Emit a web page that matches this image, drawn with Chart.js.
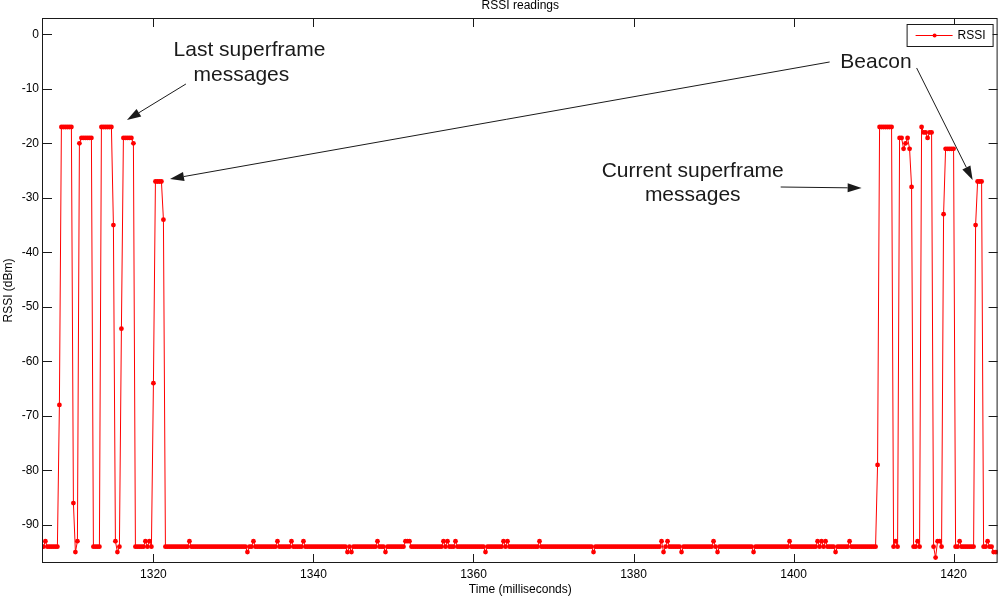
<!DOCTYPE html>
<html>
<head>
<meta charset="utf-8">
<title>RSSI readings</title>
<script src="https://cdn.jsdelivr.net/npm/chart.js@4.4.1/dist/chart.umd.min.js"></script>
<style>
    html, body { margin: 0; padding: 0; background: #fff; }
</style>
</head>
<body>
<canvas id="grafico" width="1000" height="597"></canvas>
<script>
// leituras de RSSI, uma a cada 0.25 ms a partir de 1306 ms (20 por linha = 5 ms)
const inicio = 1306;
const passo = 0.25;
const rssi = [
    -94,-94,-93,-94,-94,-94,-94,-94,-94,-68,-17,-17,-17,-17,-17,-17,-86,-95,-93,-20, // 1306
    -19,-19,-19,-19,-19,-19,-94,-94,-94,-94,-17,-17,-17,-17,-17,-17,-35,-93,-95,-94, // 1311
    -54,-19,-19,-19,-19,-19,-20,-94,-94,-94,-94,-94,-93,-94,-93,-94,-64,-27,-27,-27, // 1316
    -27,-34,-94,-94,-94,-94,-94,-94,-94,-94,-94,-94,-94,-94,-93,-94,-94,-94,-94,-94, // 1321
    -94,-94,-94,-94,-94,-94,-94,-94,-94,-94,-94,-94,-94,-94,-94,-94,-94,-94,-94,-94, // 1326
    -94,-94,-94,-95,-94,-94,-93,-94,-94,-94,-94,-94,-94,-94,-94,-94,-94,-94,-93,-94, // 1331
    -94,-94,-94,-94,-94,-93,-94,-94,-94,-94,-94,-93,-94,-94,-94,-94,-94,-94,-94,-94, // 1336
    -94,-94,-94,-94,-94,-94,-94,-94,-94,-94,-94,-94,-94,-95,-94,-95,-94,-94,-94,-94, // 1341
    -94,-94,-94,-94,-94,-94,-94,-94,-93,-94,-94,-94,-95,-94,-94,-94,-94,-94,-94,-94, // 1346
    -94,-94,-93,-93,-93,-94,-94,-94,-94,-94,-94,-94,-94,-94,-94,-94,-94,-94,-94,-94, // 1351
    -94,-93,-94,-93,-94,-94,-94,-93,-94,-94,-94,-94,-94,-94,-94,-94,-94,-94,-94,-94, // 1356
    -94,-94,-95,-94,-94,-94,-94,-94,-94,-94,-94,-93,-94,-93,-94,-94,-94,-94,-94,-94, // 1361
    -94,-94,-94,-94,-94,-94,-94,-94,-94,-93,-94,-94,-94,-94,-94,-94,-94,-94,-94,-94, // 1366
    -94,-94,-94,-94,-94,-94,-94,-94,-94,-94,-94,-94,-94,-94,-94,-94,-95,-94,-94,-94, // 1371
    -94,-94,-94,-94,-94,-94,-94,-94,-94,-94,-94,-94,-94,-94,-94,-94,-94,-94,-94,-94, // 1376
    -94,-94,-94,-94,-94,-94,-94,-94,-94,-94,-93,-95,-94,-93,-94,-94,-94,-94,-94,-94, // 1381
    -95,-94,-94,-94,-94,-94,-94,-94,-94,-94,-94,-94,-94,-94,-94,-94,-93,-94,-95,-94, // 1386
    -94,-94,-94,-94,-94,-94,-94,-94,-94,-94,-94,-94,-94,-94,-94,-94,-95,-94,-94,-94, // 1391
    -94,-94,-94,-94,-94,-94,-94,-94,-94,-94,-94,-94,-94,-94,-93,-94,-94,-94,-94,-94, // 1396
    -94,-94,-94,-94,-94,-94,-94,-94,-93,-94,-93,-94,-93,-94,-94,-94,-94,-95,-94,-94, // 1401
    -94,-94,-94,-94,-93,-94,-94,-94,-94,-94,-94,-94,-94,-94,-94,-94,-94,-94,-79,-17, // 1406
    -17,-17,-17,-17,-17,-17,-94,-93,-94,-19,-19,-21,-20,-19,-21,-28,-94,-94,-93,-94, // 1411
    -17,-18,-18,-19,-18,-18,-94,-96,-93,-93,-94,-33,-21,-21,-21,-21,-21,-94,-94,-93, // 1416
    -94,-94,-94,-94,-94,-94,-94,-35,-27,-27,-27,-94,-94,-93,-94,-94,-95,-95,-95,-95  // 1421
];

const xTicks = [1320, 1340, 1360, 1380, 1400, 1420];
const yTicks = [0, -10, -20, -30, -40, -50, -60, -70, -80, -90];

// textos e setas das anotacoes, em ms / dBm
const textos = [
    { t: 1332.0, v: -2.9, txt: 'Last superframe' },
    { t: 1331.0, v: -7.5, txt: 'messages' },
    { t: 1410.3, v: -5.1, txt: 'Beacon' },
    { t: 1387.4, v: -25.1, txt: 'Current superframe' },
    { t: 1387.4, v: -29.5, txt: 'messages' }
];
const setas = [
    { de: [1324.06, -9.11], para: [1316.69, -15.72] },
    { de: [1404.51, -5.07], para: [1322.07, -26.54] },
    { de: [1415.38, -6.17], para: [1422.38, -26.72] },
    { de: [1398.39, -28.01], para: [1408.51, -28.19] }
];

var fonte = "'Liberation Sans', Arial, Helvetica, sans-serif";

var pontos = rssi.map((v, i) => ({ x: inicio + i * passo, y: v }));

function seta(ctx, x1, y1, x2, y2) {
    var ang = Math.atan2(y2 - y1, x2 - x1);
    var comp = 14, larg = 4.5;
    var bx = x2 - comp * Math.cos(ang), by = y2 - comp * Math.sin(ang);
    ctx.beginPath();
    ctx.moveTo(x1, y1);
    ctx.lineTo(bx, by);
    ctx.stroke();
    ctx.beginPath();
    ctx.moveTo(x2, y2);
    ctx.lineTo(bx + larg * Math.sin(ang), by - larg * Math.cos(ang));
    ctx.lineTo(bx - larg * Math.sin(ang), by + larg * Math.cos(ang));
    ctx.closePath();
    ctx.fill();
}

const moldura = {
    id: 'moldura',
    afterDatasetsDraw(chart) {
        const ctx = chart.ctx;
        const a = chart.chartArea;
        const x = chart.scales.x, y = chart.scales.y;
        ctx.save();
        ctx.strokeStyle = '#1a1a1a';
        ctx.fillStyle = '#1a1a1a';
        ctx.lineWidth = 1;

        // caixa do eixo
        ctx.strokeRect(a.left - 0.5, a.top + 0.5, a.right - a.left, a.bottom - a.top - 1);

        // ticks para dentro, nos quatro lados
        ctx.beginPath();
        xTicks.forEach(v => {
            var px = Math.round(x.getPixelForValue(v)) + 0.5;
            ctx.moveTo(px, a.bottom); ctx.lineTo(px, a.bottom - 9);
            ctx.moveTo(px, a.top); ctx.lineTo(px, a.top + 9);
        });
        yTicks.forEach(v => {
            var py = Math.round(y.getPixelForValue(v)) + 0.5;
            ctx.moveTo(a.left, py); ctx.lineTo(a.left + 9, py);
            ctx.moveTo(a.right, py); ctx.lineTo(a.right - 9, py);
        });
        ctx.stroke();

        // anotacoes
        ctx.font = '21px ' + fonte;
        ctx.textAlign = 'center';
        ctx.textBaseline = 'middle';
        textos.forEach(n => {
            ctx.fillText(n.txt, x.getPixelForValue(n.t), y.getPixelForValue(n.v));
        });
        setas.forEach(s => {
            seta(ctx,
                x.getPixelForValue(s.de[0]), y.getPixelForValue(s.de[1]),
                x.getPixelForValue(s.para[0]), y.getPixelForValue(s.para[1]));
        });

        // titulo
        ctx.font = '12px ' + fonte;
        ctx.textBaseline = 'alphabetic';
        ctx.fillStyle = '#000';
        ctx.fillText('RSSI readings', (a.left + a.right) / 2, 9);

        // legenda
        var ds = chart.data.datasets[0];
        var lx = a.right - 91, ly = a.top + 6, lw = 86, lh = 22;
        ctx.fillStyle = '#fff';
        ctx.fillRect(lx, ly, lw, lh);
        ctx.strokeStyle = '#1a1a1a';
        ctx.strokeRect(lx + 0.5, ly + 0.5, lw, lh);
        var cy = ly + lh / 2 + 0.5;
        ctx.strokeStyle = ds.borderColor;
        ctx.beginPath();
        ctx.moveTo(lx + 9, cy); ctx.lineTo(lx + 46, cy);
        ctx.stroke();
        ctx.fillStyle = ds.borderColor;
        ctx.beginPath();
        ctx.arc(lx + 28, cy, 2, 0, Math.PI * 2);
        ctx.fill();
        ctx.fillStyle = '#000';
        ctx.textAlign = 'left';
        ctx.textBaseline = 'middle';
        ctx.fillText(ds.label, lx + 51, cy);
        ctx.restore();
    }
};

var ctx = document.getElementById('grafico');
var grafico = new Chart(ctx, {
    type: 'line',
    data: {
        datasets: [{
            label: 'RSSI',
            data: pontos,
            borderColor: 'rgb(255, 0, 0)',
            backgroundColor: 'rgb(255, 0, 0)',
            pointBackgroundColor: 'rgb(255, 0, 0)',
            borderWidth: 1,
            pointRadius: 2.4,
            pointBorderWidth: 0,
            pointHoverRadius: 2.4,
            tension: 0,
            fill: false
        }]
    },
    options: {
        responsive: false,
        animation: false,
        events: [],
        layout: { padding: { top: 18, right: 2, left: 0, bottom: 0 } },
        plugins: {
            legend: { display: false },
            title: { display: false },
            tooltip: { enabled: false }
        },
        scales: {
            x: {
                type: 'linear',
                min: 1306.2,
                max: 1425.5,
                afterBuildTicks: s => { s.ticks = xTicks.map(v => ({ value: v })); },
                afterFit: s => { s.height = 34; },
                grid: { display: false, drawTicks: false },
                border: { display: false },
                ticks: {
                    padding: 4,
                    color: '#000',
                    maxRotation: 0,
                    autoSkip: false,
                    font: { family: fonte, size: 12 },
                    callback: v => String(v)
                },
                title: {
                    display: true,
                    text: 'Time (milliseconds)',
                    color: '#000',
                    font: { family: fonte, size: 12 },
                    padding: { top: 0, bottom: 0 }
                }
            },
            y: {
                min: -97,
                max: 3,
                afterBuildTicks: s => { s.ticks = yTicks.map(v => ({ value: v })); },
                afterFit: s => { s.width = 43; },
                grid: { display: false, drawTicks: false },
                border: { display: false },
                ticks: {
                    padding: 4,
                    color: '#000',
                    autoSkip: false,
                    font: { family: fonte, size: 12 },
                    callback: v => String(v)
                },
                title: {
                    display: true,
                    text: 'RSSI (dBm)',
                    color: '#000',
                    font: { family: fonte, size: 12 },
                    padding: { top: 1, bottom: 0 }
                }
            }
        }
    },
    plugins: [moldura]
});
</script>
</body>
</html>
